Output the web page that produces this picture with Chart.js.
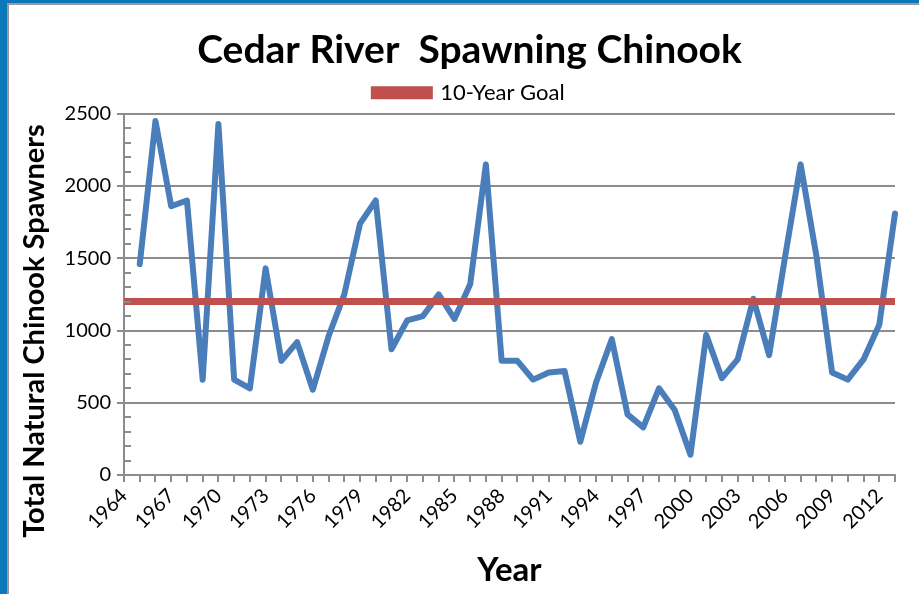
<!DOCTYPE html>
<html>
<head>
<meta charset="utf-8">
<script src="https://cdn.jsdelivr.net/npm/chart.js@4.4.1/dist/chart.umd.min.js"></script>
<style>
  html, body { margin: 0; padding: 0; background: #fff; }
  #wrap { position: relative; width: 919px; height: 594px; overflow: hidden; }
  #frame {
    position: absolute; left: 0; top: 0; right: -20px; bottom: -20px;
    border-top: 3px solid #0b78ba; border-left: 7px solid #0b78ba;
    box-shadow: inset 2px 2px 0 #9a9a9a; pointer-events: none;
  }
  canvas { position: absolute; left: 0; top: 0; }
</style>
</head>
<body>
<div id="wrap">
  <canvas id="chart" width="919" height="594"></canvas>
  <div id="frame"></div>
</div>
<script>
// Années (1964 sans donnée)
const years = [];
for (let y = 1964; y <= 2013; y++) years.push(String(y));

// Géniteurs naturels
const spawners = [null,
  1460, 2450, 1860, 1900, 660, 2430, 660, 600, 1430, 790,
  920, 590, 960, 1250, 1740, 1900, 870, 1070, 1100, 1250,
  1080, 1320, 2150, 790, 790, 660, 710, 720, 230, 640,
  940, 420, 330, 600, 450, 140, 970, 670, 800, 1220,
  830, 1500, 2150, 1520, 710, 660, 800, 1040, 1810];

// Objectif sur 10 ans
const goal = years.map(() => 1200);

const yTicks = [0, 500, 1000, 1500, 2000, 2500];

const font = 'Lato, "Open Sans", sans-serif';

// Petites graduations + titre de l'axe Y
const extras = {
  id: 'extras',
  afterDraw(c) {
    const ctx = c.ctx, y = c.scales.y, left = c.chartArea.left;
    ctx.save();
    ctx.strokeStyle = '#8c8c8c';
    ctx.lineWidth = 2;
    for (let v = 100; v < 2500; v += 100) {
      if (v % 500 === 0) continue;
      const py = Math.round(y.getPixelForValue(v));
      ctx.beginPath();
      ctx.moveTo(left, py);
      ctx.lineTo(left + 7, py);
      ctx.stroke();
    }
    ctx.translate(35, 331);
    ctx.rotate(-Math.PI / 2);
    ctx.fillStyle = '#000';
    ctx.font = 'bold 29px ' + font;
    ctx.textAlign = 'center';
    ctx.textBaseline = 'middle';
    ctx.fillText('Total Natural Chinook Spawners', 0, 0);
    ctx.restore();
  }
};

new Chart(document.getElementById('chart'), {
  type: 'line',
  data: {
    labels: years,
    datasets: [
      {
        label: 'Spawners',
        data: spawners,
        borderColor: '#4a7ebb',
        backgroundColor: '#4a7ebb',
        borderWidth: 6,
        borderJoinStyle: 'round',
        borderCapStyle: 'round',
        pointRadius: 0,
        tension: 0,
        order: 1
      },
      {
        label: '10-Year Goal',
        data: goal,
        borderColor: '#c0504d',
        backgroundColor: '#c0504d',
        borderWidth: 7,
        pointRadius: 0,
        order: 0
      }
    ]
  },
  options: {
    responsive: false,
    animation: false,
    layout: { padding: { left: 44, right: 24, top: 0, bottom: 0 } },
    plugins: {
      title: {
        display: true,
        text: 'Cedar River  Spawning Chinook',
        color: '#000',
        font: { family: font, size: 39, weight: 'bold' },
        padding: { top: 27, bottom: 0 }
      },
      legend: {
        display: true,
        labels: {
          filter: item => item.text === '10-Year Goal',
          color: '#000',
          font: { family: font, size: 22 },
          boxWidth: 55,
          boxHeight: 6,
          padding: 8
        }
      },
      tooltip: { enabled: false }
    },
    scales: {
      x: {
        offset: false,
        afterFit: s => { s.height = 119; },
        grid: { drawOnChartArea: false, drawTicks: true, tickLength: 7, color: '#8c8c8c', lineWidth: 2 },
        border: { color: '#8c8c8c', width: 2 },
        ticks: {
          autoSkip: false,
          maxRotation: 45,
          minRotation: 45,
          color: '#000',
          font: { family: font, size: 20 },
          padding: 2,
          callback: (v, i) => (i % 3 === 0 ? years[i] : '')
        },
        title: {
          display: true,
          text: 'Year',
          color: '#000',
          font: { family: font, size: 33, weight: 'bold' },
          padding: { top: 0, bottom: 4 }
        }
      },
      y: {
        min: 0,
        max: 2500,
        afterFit: s => { s.width = 80; },
        afterBuildTicks: s => { s.ticks = yTicks.map(v => ({ value: v })); },
        grid: { color: '#8c8c8c', lineWidth: 2, tickLength: 7 },
        border: { color: '#8c8c8c', width: 2 },
        ticks: {
          color: '#000',
          font: { family: font, size: 20 },
          padding: 6,
          callback: v => String(v)
        }
      }
    }
  },
  plugins: [extras]
});
</script>
</body>
</html>
